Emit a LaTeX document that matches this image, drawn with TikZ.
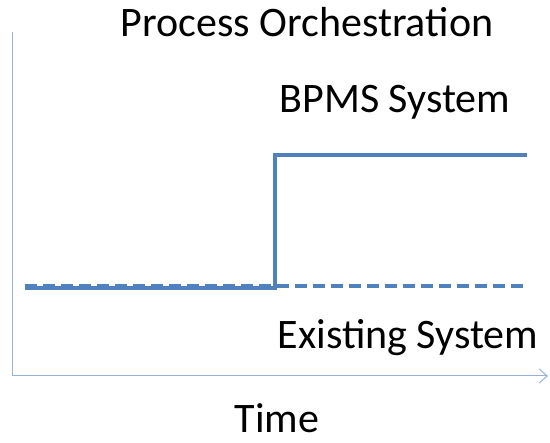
\documentclass[tikz,border=0pt]{standalone}
\usepackage{fontspec}
\setmainfont{Carlito}
\usetikzlibrary{arrows.meta, positioning}
\definecolor{lineblue}{RGB}{79,129,189}
\definecolor{axisblue}{RGB}{149,179,215}

\begin{document}
\begin{tikzpicture}[
    x=1pt, y=-1pt,
    axis/.style={draw=axisblue, line width=1pt},
    newsys/.style={draw=lineblue, line width=3.5pt},
    oldsys/.style={draw=lineblue, line width=3.5pt, dash pattern=on 12pt off 6pt},
    caption/.style={font=\fontsize{42}{50}\selectfont, inner sep=0pt,
                    text depth=0pt, anchor=base}
]
\useasboundingbox (0,0) rectangle (550,443);
% assi
\coordinate (O) at (12,376);
\coordinate (Ytop) at (12,32);
\coordinate (Xend) at (548,376);
\draw[axis] (Ytop) -- (O);
\draw[axis, -{Straight Barb[length=8pt, width=14pt]}] (O) -- (Xend);
% livelli
\coordinate (S0) at (25,288);
\coordinate (S1) at (275,288);
\coordinate (S2) at (275,155);
\coordinate (S3) at (527,155);
\coordinate (D0) at (25,286);
\coordinate (D1) at (525,286);
\draw[newsys] (S0) -- (S1) -- (S2) -- (S3);
\draw[oldsys] (D0) -- (D1);
% etichette
\node[caption] (title) at (307,37) {Process Orchestration};
\node[caption] (bpms) at (395,113) {BPMS System};
\node[caption] (existing) at (408,349) {Existing System};
\node[caption] (time) at (277,433) {Time};
\end{tikzpicture}
\end{document}
